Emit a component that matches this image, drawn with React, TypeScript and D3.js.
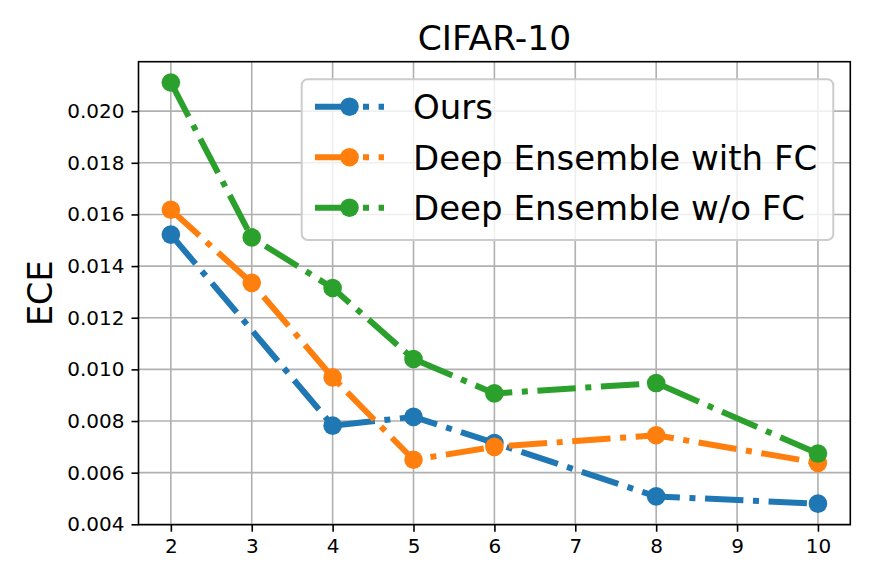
import React, { useEffect, useRef } from "react";
import * as d3 from "d3";

// values
const xTicks = [2, 3, 4, 5, 6, 7, 8, 9, 10];
const yTicks = [0.004, 0.006, 0.008, 0.01, 0.012, 0.014, 0.016, 0.018, 0.02];

const oursX = [2, 4, 5, 6, 8, 10];
const oursY = [0.01522, 0.00782, 0.00816, 0.00715, 0.00508, 0.0048];

const withFcX = [2, 3, 4, 5, 6, 8, 10];
const withFcY = [0.01618, 0.01335, 0.00969, 0.0065, 0.007, 0.00745, 0.00638];

const withoutFcX = [2, 3, 4, 5, 6, 8, 10];
const withoutFcY = [0.02111, 0.01511, 0.01315, 0.0104, 0.00907, 0.00947, 0.00674];

const seriesNames = ["Ours", "Deep Ensemble with FC", "Deep Ensemble w/o FC"];
const seriesColors = ["#1f77b4", "#ff7f0e", "#2ca02c"];

const FONT = "DejaVu Sans, sans-serif";
const DASH = "38.4 9.6 6 9.6";

const App = () => {
    const svgRef = useRef<SVGSVGElement | null>(null);

    useEffect(() => {
        const svg = d3.select(svgRef.current);
        svg.selectAll("*").remove();

        const W = 872;
        const H = 581;
        const margin = { top: 61.7, right: W - 850.3, bottom: H - 524.7, left: 138.5 };
        const width = W - margin.left - margin.right;
        const height = H - margin.top - margin.bottom;

        svg.attr("width", W).attr("height", H);
        svg.append("rect").attr("width", W).attr("height", H).attr("fill", "#fff");

        const g = svg.append("g").attr("transform", `translate(${margin.left},${margin.top})`);

        const x = d3.scaleLinear().domain([1.6, 10.4]).range([0, width]);
        const y = d3.scaleLinear().domain([0.003985, 0.021915]).range([height, 0]);

        // grid
        g.append("g")
            .selectAll("line")
            .data(xTicks)
            .enter()
            .append("line")
            .attr("x1", d => x(d))
            .attr("x2", d => x(d))
            .attr("y1", 0)
            .attr("y2", height)
            .attr("stroke", "#b0b0b0")
            .attr("stroke-width", 1.6);
        g.append("g")
            .selectAll("line")
            .data(yTicks)
            .enter()
            .append("line")
            .attr("x1", 0)
            .attr("x2", width)
            .attr("y1", d => y(d))
            .attr("y2", d => y(d))
            .attr("stroke", "#b0b0b0")
            .attr("stroke-width", 1.6);

        // axes
        const xAxis = g.append("g")
            .attr("transform", `translate(0,${height})`)
            .call(d3.axisBottom(x).tickValues(xTicks).tickFormat(d3.format("d")).tickSize(7).tickPadding(7));
        const yAxis = g.append("g")
            .call(d3.axisLeft(y).tickValues(yTicks).tickFormat(d3.format(".3f")).tickSize(7).tickPadding(7));
        [xAxis, yAxis].forEach(a => {
            a.select(".domain").remove();
            a.selectAll("line").attr("stroke", "#000").attr("stroke-width", 1.6);
            a.selectAll("text").attr("font-family", FONT).attr("font-size", 20).attr("fill", "#000");
        });

        // series
        const allX = [oursX, withFcX, withoutFcX];
        const allY = [oursY, withFcY, withoutFcY];
        const line = d3.line<[number, number]>().x(d => x(d[0])).y(d => y(d[1]));

        allX.forEach((xs, i) => {
            const pts: [number, number][] = xs.map((v, j) => [v, allY[i][j]]);
            const sg = g.append("g");
            sg.append("path")
                .datum(pts)
                .attr("d", line)
                .attr("fill", "none")
                .attr("stroke", seriesColors[i])
                .attr("stroke-width", 6)
                .attr("stroke-dasharray", DASH)
                .attr("stroke-linejoin", "round");
            sg.selectAll("circle")
                .data(pts)
                .enter()
                .append("circle")
                .attr("cx", d => x(d[0]))
                .attr("cy", d => y(d[1]))
                .attr("r", 9.3)
                .attr("fill", seriesColors[i]);
        });

        // spines
        g.append("rect")
            .attr("width", width)
            .attr("height", height)
            .attr("fill", "none")
            .attr("stroke", "#000")
            .attr("stroke-width", 1.6);

        // legend
        const leg = svg.append("g");
        leg.append("rect")
            .attr("x", 301.7)
            .attr("y", 79.3)
            .attr("width", 833.3 - 301.7)
            .attr("height", 240 - 79.3)
            .attr("rx", 6)
            .attr("fill", "#fff")
            .attr("fill-opacity", 0.8)
            .attr("stroke", "#cccccc")
            .attr("stroke-width", 2);
        seriesNames.forEach((name, i) => {
            const cy = 106.7 + i * 50.5;
            leg.append("line")
                .attr("x1", 315)
                .attr("x2", 384)
                .attr("y1", cy)
                .attr("y2", cy)
                .attr("stroke", seriesColors[i])
                .attr("stroke-width", 6)
                .attr("stroke-dasharray", DASH);
            leg.append("circle")
                .attr("cx", 349.5)
                .attr("cy", cy)
                .attr("r", 9.3)
                .attr("fill", seriesColors[i]);
            leg.append("text")
                .attr("x", 413)
                .attr("y", cy + 12.6)
                .attr("font-family", FONT)
                .attr("font-size", 34)
                .attr("fill", "#000")
                .text(name);
        });

        // title
        svg.append("text")
            .attr("x", margin.left + width / 2)
            .attr("y", 50)
            .attr("text-anchor", "middle")
            .attr("font-family", FONT)
            .attr("font-size", 34.5)
            .attr("fill", "#000")
            .text("CIFAR-10");

        // y label
        svg.append("text")
            .attr("transform", `translate(51.7,${margin.top + height / 2})rotate(-90)`)
            .attr("text-anchor", "middle")
            .attr("font-family", FONT)
            .attr("font-size", 33.5)
            .attr("fill", "#000")
            .text("ECE");
    }, []);

    return (
        <div style={{ position: "absolute", left: 0, top: 0 }}>
            <svg ref={svgRef} style={{ display: "block" }} />
        </div>
    );
};

export default App;
